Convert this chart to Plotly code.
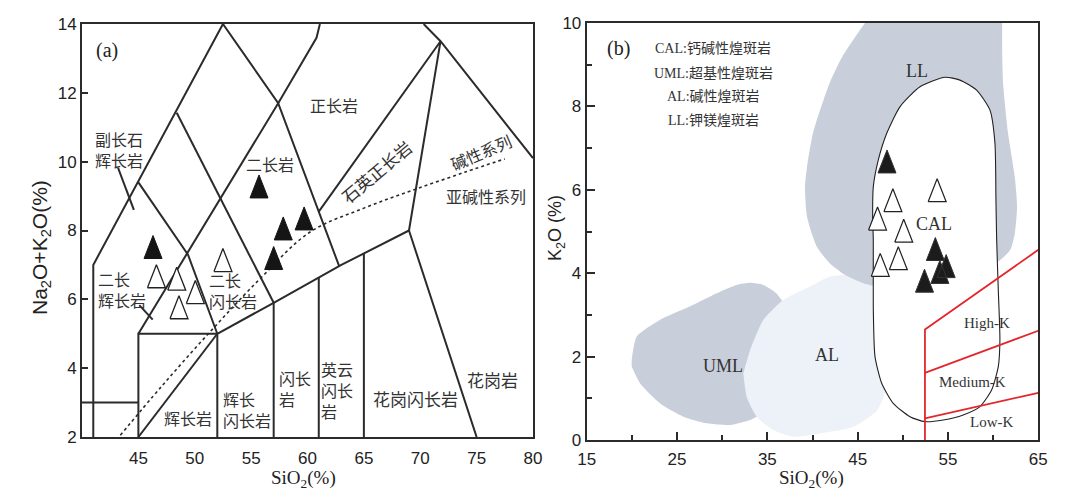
import plotly.graph_objects as go

W, H = 1084, 499
OFF = 8  # page body margin of the browser
FW, FH = W - OFF, H - OFF

# ---------------- Panel (a): TAS plutonic diagram ----------------
A_FILLED_SIO2 = [46.3, 55.7, 57.0, 57.85, 59.7]
A_FILLED_ALK = [7.52, 9.28, 7.2, 8.06, 8.35]
A_OPEN_SIO2 = [46.6, 48.4, 50.05, 48.6, 52.5]
A_OPEN_ALK = [6.67, 6.6, 6.21, 5.77, 7.14]

# field boundaries (SiO2, Na2O+K2O)
TAS_LINES = [
    [(41, 2), (41, 7), (52.5, 14)],
    [(40, 3), (45, 3)],
    [(45, 2), (45, 5), (52, 5)],
    [(45, 2), (52, 5)],
    [(52, 2), (52, 5), (57, 5.9), (63, 7), (69, 8)],
    [(57, 2), (57, 5.9)],
    [(61, 2), (61, 6.63)],
    [(65, 2), (65, 7.33)],
    [(75, 2), (69, 8), (71.8, 13.5)],
    [(45, 9.4), (49.4, 7.3), (52, 5)],
    [(48.4, 11.42), (57, 5.9)],
    [(45, 5), (57.4, 11.7), (60.8, 13.6), (61.1, 14)],
    [(52.5, 14), (57.4, 11.7), (62.8, 6.97)],
    [(61, 8.55), (71.8, 13.5)],
    [(70.3, 14), (71.8, 13.5), (80, 10.1)],
    [(43.2, 9.82), (44.6, 8.6)],
    [(45.08, 5.83), (46.27, 5.41)],
]
ALK_DIV_SIO2 = [43.4, 47, 51.4, 55.8, 60.2, 65, 69.6, 74, 77.5]
ALK_DIV_ALK = [2.05, 3.45, 5.07, 6.6, 7.95, 8.65, 9.2, 9.7, 10.08]

A_LABELS = [
    # text, x, y, angle, size, xanchor, align
    ("副长石<br>辉长岩", 43.3, 10.34, 0, 16, "center", "left"),
    ("二长岩", 56.67, 9.93, 0, 16, "center", "center"),
    ("正长岩", 62.35, 11.65, 0, 16, "center", "center"),
    ("石英正长岩", 66.1, 9.7, -40, 17, "center", "center"),
    ("碱性系列", 75.4, 10.28, -23, 16, "center", "center"),
    ("亚碱性系列", 75.8, 9.0, 0, 16, "center", "center"),
    ("二长<br>辉长岩", 43.55, 6.3, 0, 16, "center", "left"),
    ("二长<br>闪长岩", 53.4, 6.27, 0, 16, "center", "left"),
    ("辉长岩", 49.4, 2.55, 0, 16, "center", "center"),
    ("辉长<br>闪长岩", 54.63, 2.81, 0, 16, "center", "left"),
    ("闪长<br>岩", 57.3, 3.4, 0, 16, "left", "left"),
    ("英云<br>闪长<br>岩", 61.05, 3.37, 0, 16, "left", "left"),
    ("花岗闪长岩", 69.6, 3.13, 0, 17, "center", "center"),
    ("花岗岩", 76.4, 3.66, 0, 17, "center", "center"),
]

# ---------------- Panel (b): lamprophyre K2O-SiO2 ----------------
B_FILLED_SIO2 = [48.25, 53.6, 54.8, 54.1, 52.4]
B_FILLED_K2O = [6.68, 4.58, 4.17, 4.03, 3.82]
B_OPEN_SIO2 = [53.8, 48.9, 47.2, 50.1, 47.5, 49.5]
B_OPEN_K2O = [5.99, 5.75, 5.31, 5.02, 4.2, 4.36]

UML_SIO2 = [19.98, 20.53, 23.1, 26.4, 29.4, 31.6, 33.1, 34.55, 36.0, 36.8, 38.6, 37.5,
            34.55, 33.1, 30.9, 28.3, 25.7, 23.1, 20.9, 19.98]
UML_K2O = [1.92, 2.48, 2.88, 3.2, 3.52, 3.72, 3.77, 3.72, 3.52, 3.28, 2.4, 1.08,
           0.64, 0.48, 0.36, 0.4, 0.56, 0.88, 1.36, 1.76]

AL_SIO2 = [32.34, 32.71, 33.82, 35.66, 37.87, 41.16, 44.48, 47.2, 48.36, 48.58, 48.02,
           46.7, 44.15, 41.94, 39.72, 36.77, 34.55, 33.08]
AL_K2O = [1.6, 1.04, 0.56, 0.24, 0.08, 0.17, 0.31, 0.72, 1.37, 1.99, 2.81,
          3.67, 3.96, 3.92, 3.68, 3.36, 2.88, 2.16]

LL_SIO2 = [45.8, 43.4, 41.9, 40.06, 39.4, 39.17, 39.4, 40.5, 41.9, 43.6, 45.6, 47.5,
           54.1, 60.5, 61.9, 62.4, 62.65, 62.4, 61.65, 61.1, 61.0, 61.0]
LL_K2O = [10.0, 9.23, 8.56, 7.36, 6.55, 6.07, 5.35, 4.63, 4.24, 3.96, 3.76, 3.67,
          3.79, 4.27, 4.56, 4.96, 5.59, 6.31, 7.36, 8.56, 9.35, 10.0]

CAL_SIO2 = [54.67, 56.33, 58.17, 59.65, 60.2, 60.31, 60.39, 60.57, 60.75, 60.57, 59.83,
            58.54, 56.69, 54.48, 52.45, 50.79, 48.94, 47.66, 46.92, 46.73, 46.73, 46.66,
            46.73, 47.28, 48.21, 49.68, 51.9, 54.67]
CAL_K2O = [8.70, 8.63, 8.39, 7.91, 7.12, 5.76, 4.8, 3.6, 2.4, 1.76, 1.2,
           0.8, 0.6, 0.48, 0.44, 0.56, 0.88, 1.36, 2.0, 3.2, 4.8, 5.35,
           6.07, 6.71, 7.35, 7.99, 8.47, 8.70]

K_SERIES_LINES = [
    [(52.45, 0), (52.45, 2.65), (65, 4.56)],
    [(52.45, 1.61), (65, 2.62)],
    [(52.45, 0.52), (65, 1.13)],
]

B_LEGEND = ["CAL:钙碱性煌斑岩", "UML:超基性煌斑岩", "AL:碱性煌斑岩", "LL:钾镁煌斑岩"]
B_LEGEND_Y = [9.38, 8.8, 8.23, 7.65]
B_FIELD_LABELS = [("LL", 51.6, 8.85, 18), ("CAL", 53.45, 5.18, 18), ("UML", 30.1, 1.77, 18),
                  ("AL", 41.6, 2.04, 18), ("High-K", 59.33, 2.81, 15),
                  ("Medium-K", 57.67, 1.39, 15), ("Low-K", 59.77, 0.43, 15)]

# ---------------- layout geometry (screen pixels) ----------------
A_L, A_R, A_T, A_B = 82, 533, 24, 437
B_L, B_R, B_T, B_B = 586.7, 1038.3, 23, 440
A_XR, A_YR = [40, 80], [2, 14]
B_XR, B_YR = [15, 65], [0, 10]


def fx(px):
    return (px - OFF) / FW


def fy(py):
    return 1 - (py - OFF) / FH


TRI_W, TRI_H = 18, 23  # triangle marker size in px
LINE_C = "#2b2b2b"
TXT_C = "#333333"
SANS_CJK = "Noto Sans CJK SC, Liberation Sans, sans-serif"
SERIF = "Liberation Serif, Noto Sans CJK SC, serif"
SANS = "Liberation Sans, Arial, sans-serif"


def tri_polys(xs, ys, xr, yr, wpx, hpx):
    hw = (TRI_W / 2) * (xr[1] - xr[0]) / wpx
    hh = (TRI_H / 2) * (yr[1] - yr[0]) / hpx
    px, py = [], []
    for x, y in zip(xs, ys):
        px += [x - hw, x + hw, x, x - hw, None]
        py += [y - hh, y - hh, y + hh, y - hh, None]
    return px, py


fig = go.Figure()

# ---- panel a lines ----
for seg in TAS_LINES:
    fig.add_trace(go.Scatter(x=[p[0] for p in seg], y=[p[1] for p in seg], mode="lines",
                             line=dict(color=LINE_C, width=2), xaxis="x", yaxis="y",
                             showlegend=False, hoverinfo="skip"))
fig.add_trace(go.Scatter(x=ALK_DIV_SIO2, y=ALK_DIV_ALK, mode="lines",
                         line=dict(color=LINE_C, width=1.6, dash="dot", shape="spline"),
                         xaxis="x", yaxis="y", showlegend=False, hoverinfo="skip"))

awpx, ahpx = A_R - A_L, A_B - A_T
tx, ty = tri_polys(A_OPEN_SIO2, A_OPEN_ALK, A_XR, A_YR, awpx, ahpx)
fig.add_trace(go.Scatter(x=tx, y=ty, mode="lines", fill="toself", fillcolor="white",
                         line=dict(color="#222", width=1.3), xaxis="x", yaxis="y",
                         showlegend=False, hoverinfo="skip"))
tx, ty = tri_polys(A_FILLED_SIO2, A_FILLED_ALK, A_XR, A_YR, awpx, ahpx)
fig.add_trace(go.Scatter(x=tx, y=ty, mode="lines", fill="toself", fillcolor="#151515",
                         line=dict(color="#151515", width=1), xaxis="x", yaxis="y",
                         showlegend=False, hoverinfo="skip"))

# ---- panel b fields ----
for xs, ys, col in [(UML_SIO2, UML_K2O, "#c8cfdb"), (AL_SIO2, AL_K2O, "#edf2f8"),
                    (LL_SIO2, LL_K2O, "#c8cfdb")]:
    fig.add_trace(go.Scatter(x=xs, y=ys, mode="lines", fill="toself", fillcolor=col,
                             line=dict(width=0, color=col, shape="spline", smoothing=0.6),
                             xaxis="x2", yaxis="y2", showlegend=False, hoverinfo="skip"))
fig.add_trace(go.Scatter(x=CAL_SIO2, y=CAL_K2O, mode="lines", fill="toself", fillcolor="white",
                         line=dict(width=1.1, color="#222", shape="spline", smoothing=0.6),
                         xaxis="x2", yaxis="y2", showlegend=False, hoverinfo="skip"))
for seg in K_SERIES_LINES:
    fig.add_trace(go.Scatter(x=[p[0] for p in seg], y=[p[1] for p in seg], mode="lines",
                             line=dict(color="#e3262b", width=1.8), xaxis="x2", yaxis="y2",
                             showlegend=False, hoverinfo="skip"))

bwpx, bhpx = B_R - B_L, B_B - B_T
tx, ty = tri_polys(B_OPEN_SIO2, B_OPEN_K2O, B_XR, B_YR, bwpx, bhpx)
fig.add_trace(go.Scatter(x=tx, y=ty, mode="lines", fill="toself", fillcolor="white",
                         line=dict(color="#222", width=1.2), xaxis="x2", yaxis="y2",
                         showlegend=False, hoverinfo="skip"))
tx, ty = tri_polys(B_FILLED_SIO2, B_FILLED_K2O, B_XR, B_YR, bwpx, bhpx)
fig.add_trace(go.Scatter(x=tx, y=ty, mode="lines", fill="toself", fillcolor="#1c1c1c",
                         line=dict(color="#333", width=1), xaxis="x2", yaxis="y2",
                         showlegend=False, hoverinfo="skip"))

# ---- annotations ----
ann = []
for text, x, y, ang, size, xa, al in A_LABELS:
    ann.append(dict(text=text, x=x, y=y, xref="x", yref="y", showarrow=False, textangle=ang,
                    xanchor=xa, yanchor="middle", align=al,
                    font=dict(family=SANS_CJK, size=size, color=TXT_C)))
ann.append(dict(text="(a)", x=42.2, y=13.24, xref="x", yref="y", showarrow=False,
                xanchor="center", yanchor="middle",
                font=dict(family=SERIF, size=20, color="#222")))
ann.append(dict(text="(b)", x=18.5, y=9.4, xref="x2", yref="y2", showarrow=False,
                xanchor="center", yanchor="middle",
                font=dict(family=SERIF, size=20, color="#222")))
for t, y in zip(B_LEGEND, B_LEGEND_Y):
    ann.append(dict(text=t, x=29.0, y=y, xref="x2", yref="y2", showarrow=False,
                    xanchor="center", yanchor="middle",
                    font=dict(family=SERIF, size=14, color=TXT_C)))
for t, x, y, s in B_FIELD_LABELS:
    ann.append(dict(text=t, x=x, y=y, xref="x2", yref="y2", showarrow=False,
                    xanchor="center", yanchor="middle",
                    font=dict(family=SERIF, size=s, color=TXT_C)))

# axis titles (paper coords from screen pixel positions)
TITLE_KW = dict(xref="paper", yref="paper", showarrow=False, xanchor="center", yanchor="middle")
ann.append(dict(text="Na<sub>2</sub>O+K<sub>2</sub>O(%)", x=fx(41), y=fy(248), textangle=-90,
                font=dict(family=SANS, size=21, color="#222"), **TITLE_KW))
ann.append(dict(text="SiO<sub>2</sub>(%)", x=fx(303), y=fy(479),
                font=dict(family=SERIF, size=19, color="#222"), **TITLE_KW))
ann.append(dict(text="K<sub>2</sub>O (%)", x=fx(556), y=fy(228), textangle=-90,
                font=dict(family=SANS, size=18, color="#222"), **TITLE_KW))
ann.append(dict(text="SiO<sub>2</sub>(%)", x=fx(811), y=fy(479),
                font=dict(family=SERIF, size=19, color="#222"), **TITLE_KW))

axis_common = dict(showline=True, mirror=True, linecolor=LINE_C, linewidth=2, showgrid=False,
                   zeroline=False, tickcolor=LINE_C, tickwidth=1.6, automargin=False,
                   tickfont=dict(family=SANS, size=17, color="#222"))

fig.update_layout(
    width=FW, height=FH, margin=dict(l=0, r=0, t=0, b=0, autoexpand=False),
    paper_bgcolor="white", plot_bgcolor="white",
    xaxis=dict(domain=[fx(A_L), fx(A_R)], range=A_XR, anchor="y", ticklabelstandoff=5,
               tickvals=[45, 50, 55, 60, 65, 70, 75, 80], ticks="", **axis_common),
    yaxis=dict(domain=[fy(A_B), fy(A_T)], range=A_YR, anchor="x",
               tickvals=[2, 4, 6, 8, 10, 12, 14], ticks="inside", ticklen=6, **axis_common),
    xaxis2=dict(domain=[fx(B_L), fx(B_R)], range=B_XR, anchor="y2", ticklabelstandoff=3,
                tickvals=[15, 25, 35, 45, 55, 65], ticks="inside", ticklen=8,
                minor=dict(ticks="inside", tickvals=[20, 30, 40, 50, 60], ticklen=5,
                           tickcolor=LINE_C, tickwidth=1.6), **axis_common),
    yaxis2=dict(domain=[fy(B_B), fy(B_T)], range=B_YR, anchor="x2",
                tickvals=[0, 2, 4, 6, 8, 10], ticks="inside", ticklen=8,
                minor=dict(ticks="inside", tickvals=[1, 3, 5, 7, 9], ticklen=5,
                           tickcolor=LINE_C, tickwidth=1.6), **axis_common),
    annotations=ann,
)

fig.write_html("out.html")
